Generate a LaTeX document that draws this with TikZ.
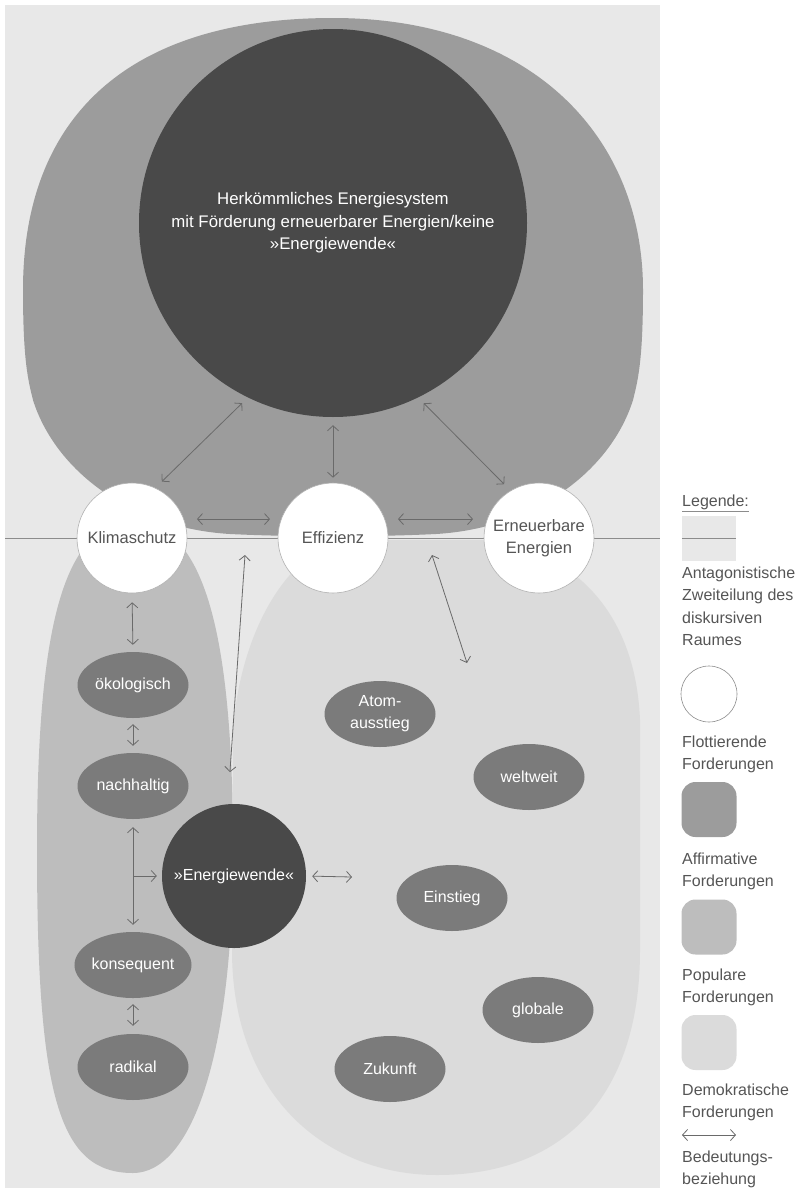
\documentclass[tikz,border=0pt]{standalone}
\usepackage{fontspec}
\setmainfont{Liberation Sans}
\usepackage{tikz}
\usetikzlibrary{shapes.geometric}
\usetikzlibrary{arrows.meta}
\definecolor{hgrund}{HTML}{E8E8E8}
\definecolor{affi}{HTML}{9C9C9C}
\definecolor{popu}{HTML}{BDBDBD}
\definecolor{demo}{HTML}{DBDBDB}
\definecolor{dunkel}{HTML}{494949}
\definecolor{fordgrau}{HTML}{7B7B7B}
\definecolor{pfeil}{HTML}{6A6A6A}
\definecolor{schrift}{HTML}{555555}
\definecolor{trenn}{HTML}{8C8C8C}
\def\breite{799}
\def\hoehe{1191}

\begin{document}
\begin{tikzpicture}[x=1pt, y=-1pt, font=\fontsize{16}{22}\selectfont,
	>={Straight Barb[length=5pt,width=11pt]},
	bez/.style={<->, color=pfeil, line width=0.8pt},
	flott/.style={circle, fill=white, draw=gray!60, line width=0.6pt, minimum size=110pt, inner sep=0pt, text=schrift, align=center, font=\fontsize{16.5}{21.5}\selectfont},
	forder/.style={ellipse, fill=fordgrau, minimum width=111pt, minimum height=66pt, inner sep=0pt, text=white, align=center},
	leg/.style={anchor=north west, inner sep=0pt, text=schrift, align=left, font=\fontsize{16}{22.5}\selectfont}]
	\useasboundingbox (0,0) rectangle (\breite,\hoehe);
	%\draw[step=10, line width=0.1pt, black!20!white] (0,0) grid (\breite,\hoehe);
	\fill[hgrund] (5,5) rectangle (660,1188);
	\fill[affi] (333,18) .. controls (130,18) and (23,115) .. (23,290)
		.. controls (23,360) and (28,380) .. (33,400)
		.. controls (55,470) and (130,528) .. (230,534)
		.. controls (290,537) and (376,537) .. (436,534)
		.. controls (536,528) and (611,470) .. (633,400)
		.. controls (638,380) and (643,360) .. (643,290)
		.. controls (643,135) and (530,18) .. (333,18) -- cycle;
	\node[circle, fill=dunkel, minimum size=388pt, inner sep=0pt, text=white, align=center, font=\fontsize{16.8}{22.5}\selectfont] (herk) at (333,223){Herkömmliches Energiesystem\\mit Förderung erneuerbarer Energien/keine\\»Energiewende«};
	\fill[popu] (133,522) .. controls (60,522) and (37,640) .. (37,850)
		.. controls (37,1100) and (60,1173) .. (133,1173)
		.. controls (190,1173) and (233,1060) .. (233,850)
		.. controls (233,640) and (206,522) .. (133,522) -- cycle;
	\fill[demo] (233,730) .. controls (240,640) and (280,560) .. (340,540)
		-- (480,540) .. controls (560,545) and (635,600) .. (640,720)
		-- (640,950) .. controls (640,1100) and (560,1175) .. (437,1175)
		.. controls (330,1175) and (232,1100) .. (232,950) -- cycle;
	\draw[trenn, line width=0.8pt] (5,538) -- (660,538);
	\node[flott] (klima) at (132,538){Klimaschutz};
	\node[flott] (effi) at (333,538){Effizienz};
	\node[flott] (ern) at (539,538){Erneuerbare\\Energien};
	\node[forder] (oeko) at (133,685){ökologisch};
	\node[forder] (nach) at (133,786){nachhaltig};
	\node[forder] (kons) at (133,965){konsequent};
	\node[forder] (radi) at (133,1067){radikal};
	\node[forder] (atom) at (380,714){Atom-\\ausstieg};
	\node[forder] (welt) at (529,777){weltweit};
	\node[forder] (einst) at (452,898){Einstieg};
	\node[forder] (glob) at (538,1010){globale};
	\node[forder] (zuk) at (390,1069){Zukunft};
	\node[circle, fill=dunkel, minimum size=144pt, inner sep=0pt, text=white] (wende) at (234,876){»Energiewende«};
	\coordinate (verzw) at (133,876);
	\coordinate (wendeob) at (245,555);
	\coordinate (wenderechts) at (352,877);
	\coordinate (ernob) at (432,555);
	\coordinate (ernunt) at (467,663);
	\draw[bez, shorten <=9pt, shorten >=8pt] (klima.65) -- (herk.244);
	\draw[bez, shorten <=5pt, shorten >=8pt] (effi.north) -- (herk.south);
	\draw[bez, shorten <=9pt, shorten >=8pt] (ern.121) -- (herk.296);
	\draw[bez, shorten <=13pt, shorten >=11pt] (klima.20) -- (effi.160);
	\draw[bez, shorten <=13pt, shorten >=14pt] (effi.20) -- (ern.160);
	\draw[bez, shorten <=9pt, shorten >=7pt] (klima.south) -- (oeko.north);
	\draw[bez, shorten <=6pt, shorten >=7pt] (oeko.south) -- (nach.north);
	\draw[bez, shorten <=8pt, shorten >=7pt] (nach.south) -- (kons.north);
	\draw[bez, ->, shorten >=5pt] (verzw) -- (wende.west);
	\draw[bez, shorten <=6pt, shorten >=8pt] (kons.south) -- (radi.north);
	\draw[bez, shorten >=32pt] (wendeob) -- (wende.95);
	\draw[bez, shorten <=6pt] (wende.east) -- (wenderechts);
	\draw[bez] (ernob) -- (ernunt);
	\node[leg] (legtit) at (682,494.5){Legende:};
	\draw[trenn, line width=0.8pt] ([yshift=-5pt]legtit.base west) -- ([yshift=-5pt]legtit.base east);
	\node[fill=hgrund, minimum width=54pt, minimum height=45pt, inner sep=0pt] (legant) at (709,538.5){};
	\draw[trenn, line width=0.8pt] (legant.west) -- (legant.east);
	\node[leg] (legantt) at (682,566.5){Antagonistische\\Zweiteilung des\\diskursiven\\Raumes};
	\node[circle, draw=trenn, fill=white, line width=0.6pt, minimum size=56pt, inner sep=0pt] (legflott) at (709,694){};
	\node[leg] (legflottt) at (682,735.5){Flottierende\\Forderungen};
	\node[fill=affi, rounded corners=14pt, minimum size=55pt, inner sep=0pt] (legaff) at (709,809.5){};
	\node[leg] (legafft) at (682,852.5){Affirmative\\Forderungen};
	\node[fill=popu, rounded corners=14pt, minimum size=55pt, inner sep=0pt] (legpop) at (709,927){};
	\node[leg] (legpopt) at (682,968.5){Populare\\Forderungen};
	\node[fill=demo, rounded corners=14pt, minimum size=55pt, inner sep=0pt] (legdem) at (709,1042.5){};
	\node[leg] (legdemt) at (682,1083.5){Demokratische\\Forderungen};
	\coordinate (legpa) at (682,1135);
	\coordinate (legpb) at (736,1135);
	\draw[bez] (legpa) -- (legpb);
	\node[leg] (legbezt) at (682,1150.5){Bedeutungs-\\beziehung};
\end{tikzpicture}
\end{document}
